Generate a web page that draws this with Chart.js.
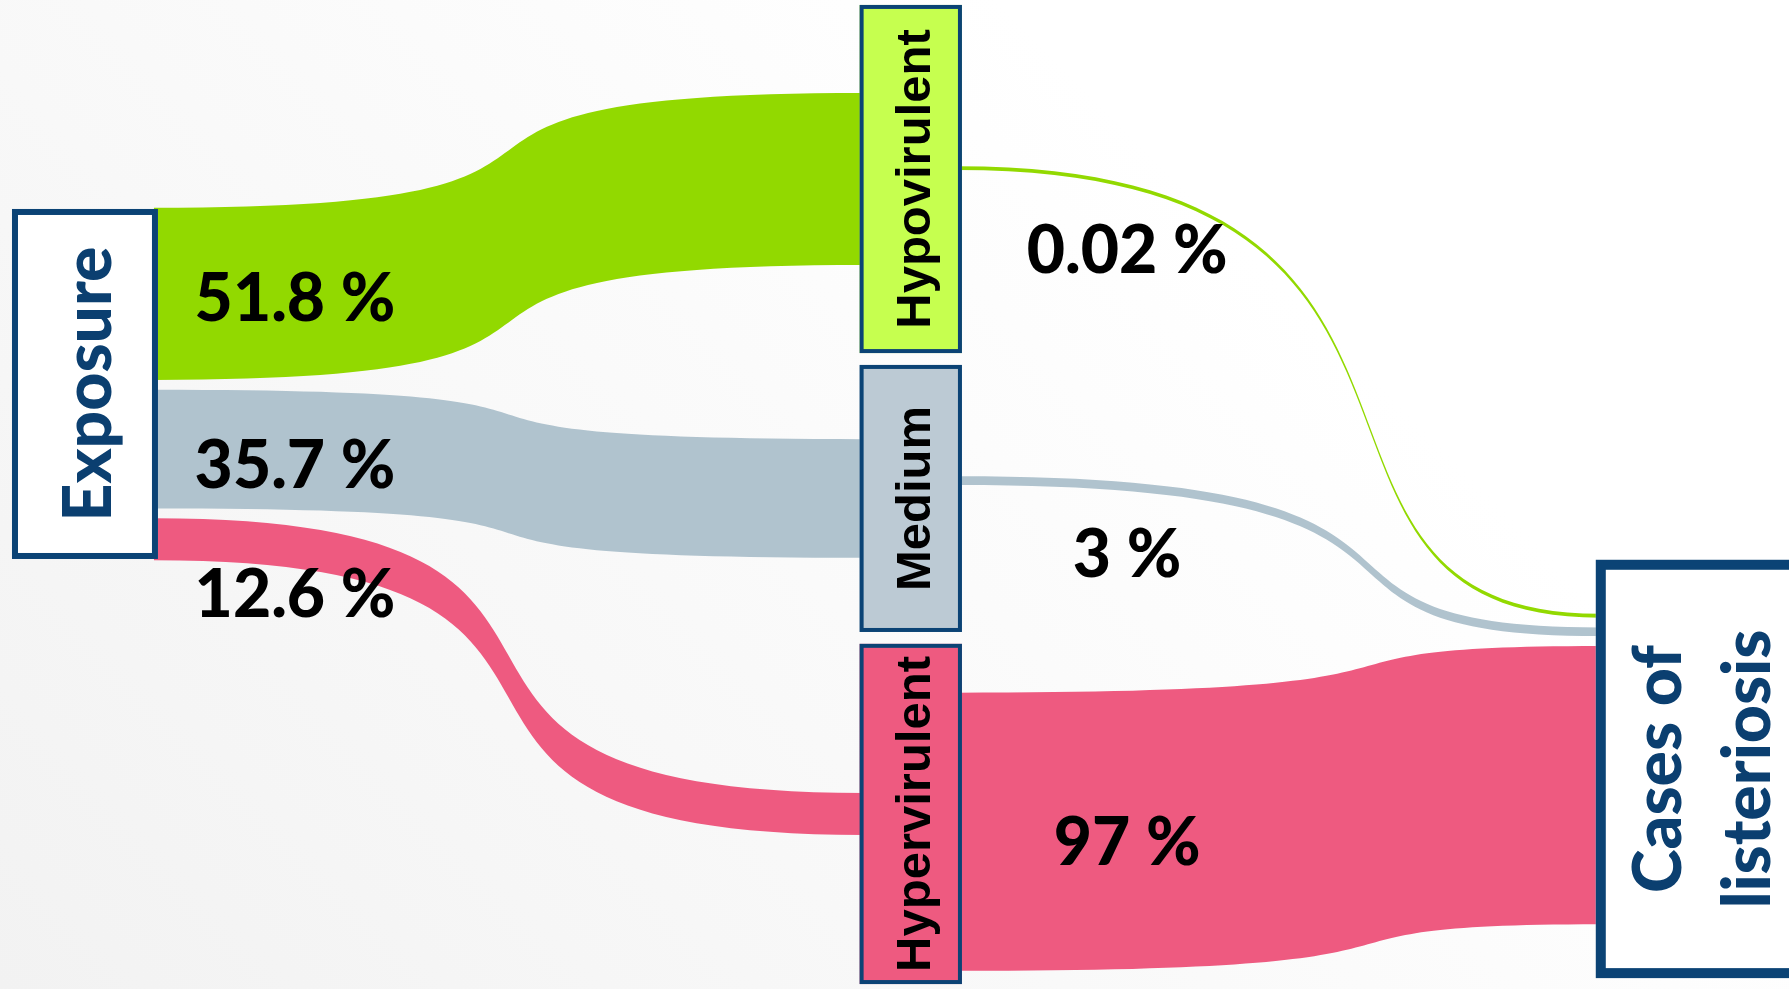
<!DOCTYPE html>
<html>
<head>
<meta charset="utf-8">
<title>Listeriosis flow</title>
<script src="https://cdn.jsdelivr.net/npm/chart.js@4.4.1/dist/chart.umd.min.js"></script>
<style>
  html, body { margin: 0; padding: 0; background: #fff; overflow: hidden; }
  #wrap { width: 1789px; height: 989px; }
</style>
</head>
<body>
<div id="wrap"><canvas id="flowChart"></canvas></div>
<script>
//  DATA
var sourceName = "Exposure";
var strainNames = ["Hypovirulent", "Medium", "Hypervirulent"];
var targetName = ["Cases of", "listeriosis"];
var exposureShare = [51.8, 35.7, 12.6]; // % of exposure per strain group
var caseShare = [0.02, 3, 97]; // % of cases per strain group

//  STYLE
var flowColors = ["#92d900", "#b0c3ce", "#ee5a80"];
var strainFills = ["#c6ff4f", "#bccad4", "#ee5a80"];
var navy = "#0b4375";
var navyText = "#0b3f70";
var blueFont = "900 66px Lato";
var shareFont = "900 66px Lato";
var strainFont = "bold 49px 'Liberation Sans'";

//  LAYOUT (axis units 0..100, y runs downwards)
var sourceBox = { x0: 0.67, x1: 8.83, y0: 21.13, y1: 56.52, line: 6 };
var strainCol = { x0: 48.05, x1: 53.77, line: 4 };
var strainRows = [[0.5, 35.7], [36.9, 63.9], [65.1, 99.5]];
var exitShift = [-1.1, -1.8, 1.8]; // where each group's outgoing band leaves its box
var targetBox = { x0: 89.2, x1: 101, y0: 56.6, y1: 98.9, line: 10 };
var targetTextX = 95.11;
var targetLineGap = 89; // px between the two text lines
var unitsPerPct = [0.336, 0.29]; // band thickness per percent, per stage
var flowGap = 1.0;
var minFlow = 0.4;
var bend = [[0.78, 0.78], [0.88, 0.56]];
var shareSpots = [[16.49, 30.03], [16.49, 46.92], [16.49, 59.96]];
var caseSpots = [[63, 25.18], [63, 55.9], [63, 85.04]];

//  HELPERS
function stack(widths, center) {
  var total = flowGap * (widths.length - 1);
  for (var i = 0; i < widths.length; i++) total += widths[i];
  var y = center - total / 2;
  var out = [];
  for (var i = 0; i < widths.length; i++) {
    out.push([y, y + widths[i]]);
    y += widths[i] + flowGap;
  }
  return out;
}

function band(ctx, x0, t0, b0, x1, t1, b1, a, b) {
  var dx = x1 - x0;
  ctx.beginPath();
  ctx.moveTo(x0, t0);
  ctx.bezierCurveTo(x0 + a * dx, t0, x1 - b * dx, t1, x1, t1);
  ctx.lineTo(x1, b1);
  ctx.bezierCurveTo(x1 - b * dx, b1, x0 + a * dx, b0, x0, b0);
  ctx.closePath();
  ctx.fill();
}

function box(ctx, x0, y0, x1, y1, fill, lw) {
  ctx.fillStyle = fill;
  ctx.fillRect(x0, y0, x1 - x0, y1 - y0);
  ctx.strokeStyle = navy;
  ctx.lineWidth = lw;
  ctx.strokeRect(x0 + lw / 2, y0 + lw / 2, x1 - x0 - lw, y1 - y0 - lw);
}

function upText(ctx, text, cx, cy, font, size, color) {
  ctx.save();
  ctx.translate(cx, cy);
  ctx.rotate(-Math.PI / 2);
  ctx.font = font;
  ctx.fillStyle = color;
  ctx.textAlign = "center";
  ctx.textBaseline = "alphabetic";
  ctx.fillText(text, 0, size * 0.36);
  ctx.restore();
}

function flatText(ctx, text, cx, cy, font, size, color) {
  ctx.font = font;
  ctx.fillStyle = color;
  ctx.textAlign = "center";
  ctx.textBaseline = "alphabetic";
  ctx.fillText(text, cx, cy + size * 0.36);
}

//  PLUGIN
var sankeyPlugin = {
  id: "sankeyDraw",
  beforeDraw: function (chart) {
    var ctx = chart.ctx;
    var g = ctx.createLinearGradient(0, chart.height, 1000, 0);
    g.addColorStop(0, "#f2f2f2");
    g.addColorStop(1, "#ffffff");
    ctx.save();
    ctx.fillStyle = g;
    ctx.fillRect(0, 0, chart.width, chart.height);
    ctx.restore();
  },
  afterDatasetsDraw: function (chart) {
    var ctx = chart.ctx;
    var sx = chart.scales.x;
    var sy = chart.scales.y;
    function X(v) { return sx.getPixelForValue(v); }
    function Y(v) { return sy.getPixelForValue(v); }

    var srcCenter = (sourceBox.y0 + sourceBox.y1) / 2;
    var tgtCenter = (targetBox.y0 + targetBox.y1) / 2;

    // stage 1: exposure -> strain groups
    var w1 = exposureShare.map(function (v) { return Math.max(v * unitsPerPct[0], minFlow); });
    var out1 = stack(w1, srcCenter);
    // stage 2: strain groups -> cases
    var w2 = caseShare.map(function (v) { return Math.max(v * unitsPerPct[1], minFlow); });
    var in2 = stack(w2, tgtCenter);

    ctx.save();
    for (var i = 0; i < strainNames.length; i++) {
      var rowC = (strainRows[i][0] + strainRows[i][1]) / 2;
      var in1 = stack([w1[i]], rowC)[0];
      var out2 = stack([w2[i]], rowC + exitShift[i])[0];
      ctx.fillStyle = flowColors[i];
      band(ctx,
        X(sourceBox.x1) - 4, Y(out1[i][0]), Y(out1[i][1]),
        X(strainCol.x0) + 4, Y(in1[0]), Y(in1[1]),
        bend[0][0], bend[0][1]);
      band(ctx,
        X(strainCol.x1) - 4, Y(out2[0]), Y(out2[1]),
        X(targetBox.x0) + 4, Y(in2[i][0]), Y(in2[i][1]),
        bend[1][0], bend[1][1]);
    }

    // nodes
    box(ctx, X(sourceBox.x0), Y(sourceBox.y0), X(sourceBox.x1), Y(sourceBox.y1), "#ffffff", sourceBox.line);
    upText(ctx, sourceName, (X(sourceBox.x0) + X(sourceBox.x1)) / 2 + 2, Y(srcCenter), blueFont, 66, navyText);

    for (var i = 0; i < strainNames.length; i++) {
      box(ctx, X(strainCol.x0), Y(strainRows[i][0]), X(strainCol.x1), Y(strainRows[i][1]), strainFills[i], strainCol.line);
      upText(ctx, strainNames[i], (X(strainCol.x0) + X(strainCol.x1)) / 2 + 2,
        Y((strainRows[i][0] + strainRows[i][1]) / 2), strainFont, 49, "#000000");
    }

    box(ctx, X(targetBox.x0), Y(targetBox.y0), X(targetBox.x1), Y(targetBox.y1), "#ffffff", targetBox.line);
    for (var j = 0; j < targetName.length; j++) {
      var off = (j - (targetName.length - 1) / 2) * targetLineGap;
      upText(ctx, targetName[j], X(targetTextX) + off, Y(tgtCenter), blueFont, 66, navyText);
    }

    // percentage labels
    for (var i = 0; i < exposureShare.length; i++) {
      flatText(ctx, exposureShare[i] + " %", X(shareSpots[i][0]), Y(shareSpots[i][1]), shareFont, 66, "#000000");
    }
    for (var i = 0; i < caseShare.length; i++) {
      flatText(ctx, caseShare[i] + " %", X(caseSpots[i][0]), Y(caseSpots[i][1]), shareFont, 66, "#000000");
    }
    ctx.restore();
  },
};

//  CHART
var flowChart = new Chart(document.getElementById("flowChart"), {
  type: "scatter",
  data: { datasets: [{ data: [] }] },
  options: {
    responsive: true,
    maintainAspectRatio: false,
    animation: false,
    layout: { padding: 0 },
    plugins: { legend: { display: false }, tooltip: { enabled: false } },
    scales: {
      x: { type: "linear", min: 0, max: 100, display: false },
      y: { type: "linear", min: 0, max: 100, reverse: true, display: false },
    },
  },
  plugins: [sankeyPlugin],
});
</script>
</body>
</html>
